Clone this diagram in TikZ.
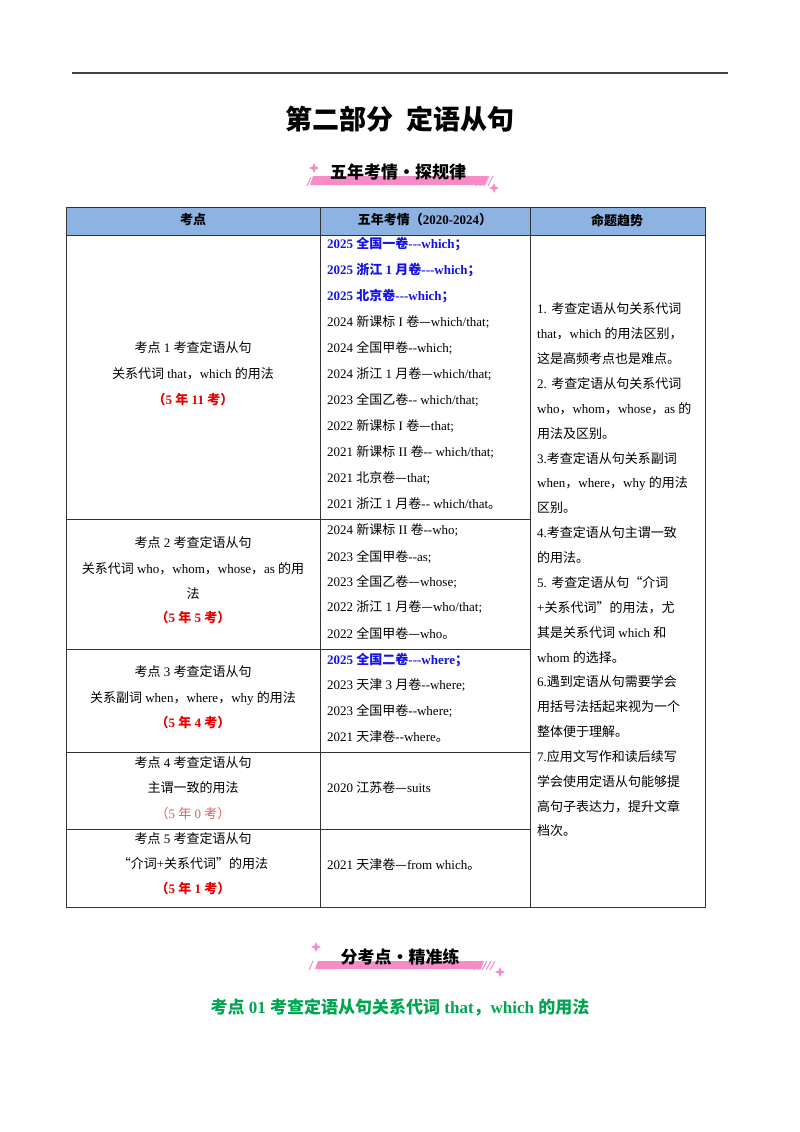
\documentclass[tikz,border=0pt]{standalone}
\usepackage{fontspec}
\setmainfont{Liberation Serif}
\newfontfamily\cjk{Noto Sans CJK SC}
\XeTeXinterchartokenstate=1
\newXeTeXintercharclass\CJKcls
\makeatletter
\def\setcls#1#2{\count@=#1\relax\loop\XeTeXcharclass\count@=\CJKcls\ifnum\count@<#2\advance\count@ 1\repeat}
\setcls{"4E00}{"9FFF}
\setcls{"3000}{"303F}
\setcls{"30FB}{"30FB}
\setcls{"FF00}{"FFEF}
\setcls{"2014}{"2014}
\setcls{"201C}{"201D}
\makeatother
\XeTeXinterchartoks 0 \CJKcls = {\begingroup\cjk}
\XeTeXinterchartoks 4095 \CJKcls = {\begingroup\cjk}
\XeTeXinterchartoks \CJKcls 0 = {\endgroup}
\XeTeXinterchartoks \CJKcls 4095 = {\endgroup}
\definecolor{hdr}{RGB}{141,179,226}
\definecolor{myblue}{RGB}{20,20,230}
\definecolor{myred}{RGB}{230,0,0}
\definecolor{lred}{RGB}{235,90,90}
\definecolor{mygreen}{RGB}{0,165,80}
\definecolor{pinkb}{RGB}{245,140,200}
\begin{document}
\begin{tikzpicture}[x=1pt,y=-1pt,
  txt/.style={inner sep=0pt,font=\fontsize{13}{15}\selectfont},
  bf/.style={font=\fontsize{13}{15}\selectfont\bfseries},
  tl/.style={txt,anchor=west},
  grid/.style={draw=black!80,line width=0.7pt}]
\useasboundingbox[fill=white] (0,0) rectangle (800,1132);
\draw[line width=1.4pt,black!75] (72,73) -- (728,73);
\node[txt,font=\fontsize{27}{30}\selectfont\bfseries] (title) at (400,119) {第二部分\ \ 定语从句};
% banner 1
\fill[pinkb] (313,176) -- (488,176) -- (485,185) -- (310,185) -- cycle;
\foreach \i in {0,4,8,12} {\draw[pinkb,line width=1pt] (476+\i,186) -- (481+\i,176);}
\draw[pinkb,line width=1pt] (307,186) -- (311,177);
\node[txt,font=\fontsize{17}{20}\selectfont\bfseries] (b1) at (398,172) {五年考情・探规律};
\fill[pinkb] (314,163) -- (315.5,166.5) -- (319,168) -- (315.5,169.5) -- (314,173) -- (312.5,169.5) -- (309,168) -- (312.5,166.5) -- cycle;
\fill[pinkb] (494,183) -- (495.5,186.5) -- (499,188) -- (495.5,189.5) -- (494,193) -- (492.5,189.5) -- (489,188) -- (492.5,186.5) -- cycle;
% table
\fill[hdr] (66,207) rectangle (705,235);
\draw[grid] (66,207) rectangle (705,907);
\draw[grid] (66,235) -- (705,235);
\draw[grid] (320,207) -- (320,907);
\draw[grid] (530,207) -- (530,907);
\foreach \y in {519,649,752,829} \draw[grid] (66,\y) -- (530,\y);
\node[txt,bf] (h1) at (193,220) {考点};
\node[txt,bf] (h2) at (425,220) {五年考情（2020-2024）};
\node[txt,bf] (h3) at (617,220) {命题趋势};
% col1
\node[txt] (a1) at (193,348) {考点 1 考查定语从句};
\node[txt] (a2) at (193,374) {关系代词 that，which 的用法};
\node[txt,bf,text=myred] (a3) at (193,400) {（5 年 11 考）};
\node[txt] (b1a) at (193,543) {考点 2 考查定语从句};
\node[txt] (b2) at (193,569) {关系代词 who，whom，whose，as 的用};
\node[txt] (b3) at (193,594) {法};
\node[txt,bf,text=myred] (b4) at (193,618) {（5 年 5 考）};
\node[txt] (c1) at (193,672) {考点 3 考查定语从句};
\node[txt] (c2) at (193,698) {关系副词 when，where，why 的用法};
\node[txt,bf,text=myred] (c3) at (193,723) {（5 年 4 考）};
\node[txt] (d1) at (193,763) {考点 4 考查定语从句};
\node[txt] (d2) at (193,788) {主谓一致的用法};
\node[txt,text=lred] (d3) at (193,814) {（5 年 0 考）};
\node[txt] (e1) at (193,839) {考点 5 考查定语从句};
\node[txt] (e2) at (193,864) {“介词+关系代词”的用法};
\node[txt,bf,text=myred] (e3) at (193,889) {（5 年 1 考）};
% col2
\begin{scope}[every node/.style={tl}]
\node[bf,text=myblue] (r1) at (327,244) {2025 全国一卷-{}-{}-which；};
\node[bf,text=myblue] (r2) at (327,270) {2025 浙江 1 月卷-{}-{}-which；};
\node[bf,text=myblue] (r3) at (327,296) {2025 北京卷-{}-{}-which；};
\node (r4) at (327,322) {2024 新课标 I 卷—which/that;};
\node (r5) at (327,348) {2024 全国甲卷-{}-which;};
\node (r6) at (327,374) {2024 浙江 1 月卷—which/that;};
\node (r7) at (327,400) {2023 全国乙卷-{}- which/that;};
\node (r8) at (327,426) {2022 新课标 I 卷—that;};
\node (r9) at (327,452) {2021 新课标 II 卷-{}- which/that;};
\node (r10) at (327,478) {2021 北京卷—that;};
\node (r11) at (327,504) {2021 浙江 1 月卷-{}- which/that。};
\node (s1) at (327,530) {2024 新课标 II 卷-{}-who;};
\node (s2) at (327,557) {2023 全国甲卷-{}-as;};
\node (s3) at (327,582) {2023 全国乙卷—whose;};
\node (s4) at (327,607) {2022 浙江 1 月卷—who/that;};
\node (s5) at (327,633) {2022 全国甲卷—who。};
\node[bf,text=myblue] (t1) at (327,660) {2025 全国二卷-{}-{}-where；};
\node (t2) at (327,685) {2023 天津 3 月卷-{}-where;};
\node (t3) at (327,711) {2023 全国甲卷-{}-where;};
\node (t4) at (327,737) {2021 天津卷-{}-where。};
\node (u1) at (327,788) {2020 江苏卷—suits};
\node (v1) at (327,865) {2021 天津卷—from which。};
% col3
\foreach \t [count=\k from 0] in {%
{1. 考查定语从句关系代词},{that，which 的用法区别，},{这是高频考点也是难点。},%
{2. 考查定语从句关系代词},{who，whom，whose，as 的},{用法及区别。},%
{3.考查定语从句关系副词},{when，where，why 的用法},{区别。},%
{4.考查定语从句主谓一致},{的用法。},{5. 考查定语从句“介词},{+关系代词”的用法，尤},%
{其是关系代词 which 和},{whom 的选择。},{6.遇到定语从句需要学会},{用括号法括起来视为一个},%
{整体便于理解。},{7.应用文写作和读后续写},{学会使用定语从句能够提},{高句子表达力，提升文章},{档次。}}
  \node (m\k) at (537,309+24.86*\k) {\t};
\end{scope}
% banner 2
\fill[pinkb] (318,961) -- (484,961) -- (481,969) -- (315,969) -- cycle;
\foreach \i in {0,4,8,12,16} {\draw[pinkb,line width=1pt] (474+\i,970) -- (479+\i,961);}
\draw[pinkb,line width=1pt] (309,970) -- (313,961);
\node[txt,font=\fontsize{17}{20}\selectfont\bfseries] (b2t) at (400,957) {分考点・精准练};
\fill[pinkb] (316,942) -- (317.5,945.5) -- (321,947) -- (317.5,948.5) -- (316,952) -- (314.5,948.5) -- (311,947) -- (314.5,945.5) -- cycle;
\fill[pinkb] (500,967) -- (501.5,970.5) -- (505,972) -- (501.5,973.5) -- (500,977) -- (498.5,973.5) -- (495,972) -- (498.5,970.5) -- cycle;
\node[txt,text=mygreen,font=\fontsize{17}{20}\selectfont\bfseries] (g) at (400,1007) {考点 01 考查定语从句关系代词 that，which 的用法};
\end{tikzpicture}
\end{document}
